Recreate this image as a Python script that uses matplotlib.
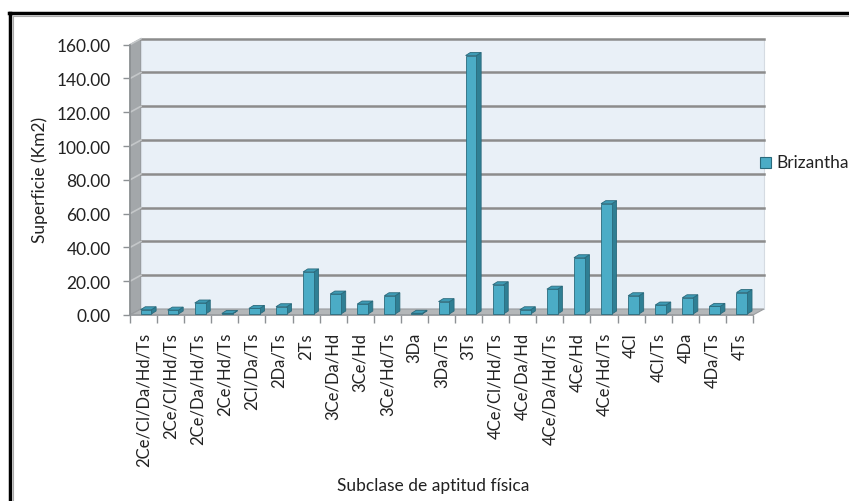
import matplotlib
matplotlib.use("Agg")
import matplotlib.pyplot as plt
from matplotlib.patches import Polygon, Rectangle
from matplotlib.lines import Line2D

plt.rcParams['font.family'] = ['Lato', 'DejaVu Sans']

categories = ["2Ce/Cl/Da/Hd/Ts", "2Ce/Cl/Hd/Ts", "2Ce/Da/Hd/Ts", "2Ce/Hd/Ts", "2Cl/Da/Ts",
              "2Da/Ts", "2Ts", "3Ce/Da/Hd", "3Ce/Hd", "3Ce/Hd/Ts", "3Da", "3Da/Ts", "3Ts",
              "4Ce/Cl/Hd/Ts", "4Ce/Da/Hd", "4Ce/Da/Hd/Ts", "4Ce/Hd", "4Ce/Hd/Ts", "4Cl",
              "4Cl/Ts", "4Da", "4Da/Ts", "4Ts"]
brizantha = [2.5, 2.3, 6.5, 0.3, 3.3, 4.3, 24.9, 11.8, 5.9, 10.8, 0.4, 7.3, 153.0,
             17.3, 2.5, 14.7, 33.3, 65.3, 10.8, 5.3, 9.6, 4.5, 12.7]
yticks = [0, 20, 40, 60, 80, 100, 120, 140, 160]
series_name = "Brizantha"

W, H = 849, 502
fig = plt.figure(figsize=(W / 100, H / 100), dpi=100)
fig.patch.set_facecolor('white')

x0, x1 = 130, 753
y0, y1 = 316, 45.7
ax = fig.add_axes([x0 / W, 1 - y0 / H, (x1 - x0) / W, (y0 - y1) / H])
n = len(categories)
ax.set_xlim(0, n)
ax.set_ylim(0, 160)
ax.patch.set_visible(False)
for s in ax.spines.values():
    s.set_visible(False)

pxx = (x1 - x0) / n
pxy = (y0 - y1) / 160.0
DX = 11 / pxx
DY = 6 / pxy

gray_grid = '#8c8c8c'
# side wall
ax.add_patch(Polygon([(0, 0), (DX, DY), (DX, 160 + DY), (0, 160)], closed=True,
                     facecolor='#a3a7aa', edgecolor='#8d9194', lw=0.8, clip_on=False, zorder=1))
# back wall
ax.add_patch(Polygon([(DX, DY), (n + DX, DY), (n + DX, 160 + DY), (DX, 160 + DY)], closed=True,
                     facecolor='#e9f0f7', edgecolor='#d5dbe2', lw=0.8, clip_on=False, zorder=1))
# floor
ax.add_patch(Polygon([(0, 0), (n, 0), (n + DX, DY), (DX, DY)], closed=True,
                     facecolor='#b4b7b9', edgecolor='#9a9da0', lw=0.8, clip_on=False, zorder=2))
# gridlines
for v in yticks[1:]:
    ax.add_line(Line2D([DX, n + DX], [v + DY, v + DY], color=gray_grid, lw=1.8, zorder=2, clip_on=False))
    ax.add_line(Line2D([0, DX], [v, v + DY], color='#c4c7c9', lw=1.2, zorder=2, clip_on=False))
# front edge lines
ax.add_line(Line2D([0, n], [0, 0], color='#9a9da0', lw=1.2, zorder=3, clip_on=False))
ax.add_line(Line2D([0, 0], [0, 160], color='#8d9194', lw=1.2, zorder=3, clip_on=False))

# bars
bw = 0.40
off = 0.39
bdx = 4.7 / pxx
bdy = 3.0 / pxy
base = 0.6
front_c = '#4bacc6'
side_c = '#2f7f94'
top_c = '#3e9bb5'
edge_c = '#2a6a7c'
for i, v in enumerate(brizantha):
    xl = i + off
    xr = xl + bw
    b = base
    t = base + v
    ax.add_patch(Polygon([(xr, b), (xr + bdx, b + bdy), (xr + bdx, t + bdy), (xr, t)], closed=True,
                         facecolor=side_c, edgecolor=edge_c, lw=0.6, zorder=4, clip_on=False))
    ax.add_patch(Polygon([(xl, t), (xr, t), (xr + bdx, t + bdy), (xl + bdx, t + bdy)], closed=True,
                         facecolor=top_c, edgecolor=edge_c, lw=0.6, zorder=4, clip_on=False))
    ax.add_patch(Rectangle((xl, b), bw, v, facecolor=front_c, edgecolor=edge_c, lw=0.6,
                           zorder=5, clip_on=False))

ax.set_yticks(yticks)
ax.set_yticklabels([f"{v:.2f}" for v in yticks], fontsize=12.5, color='#222222')
ax.tick_params(axis='y', length=5, width=1, color='#8d9194', pad=9)
ax.set_xticks([i for i in range(n + 1)], minor=False)
ax.set_xticklabels([])
ax.tick_params(axis='x', length=6, width=1, color='#8d9194', direction='out')
for i, c in enumerate(categories):
    ax.text(i + 0.5, -10, c, rotation=90, ha='center', va='top', fontsize=12, color='#222222',
            clip_on=False)

fig.text(40 / W, 1 - 180 / H, "Superficie (Km2)", rotation=90, ha='center', va='center',
         fontsize=12.5, color='#222222')
fig.text(433 / W, 1 - 486 / H, "Subclase de aptitud física", ha='center', va='center',
         fontsize=12.5, color='#222222')

# legend
fig.patches.append(Rectangle((760 / W, 1 - 168.7 / H), 11 / W, 11 / H, transform=fig.transFigure,
                             facecolor=front_c, edgecolor=edge_c, lw=0.8))
fig.text(776 / W, 1 - 163 / H, series_name, ha='left', va='center', fontsize=12.5, color='#222222')

# outer frame
fig.add_artist(Line2D([9 / W, 1], [1 - 14 / H, 1 - 14 / H], transform=fig.transFigure, color='black', lw=2.5))
fig.add_artist(Line2D([10 / W, 10 / W], [0, 1 - 14 / H], transform=fig.transFigure, color='black', lw=2.5))
fig.add_artist(Line2D([13 / W, 1], [1 - 17 / H, 1 - 17 / H], transform=fig.transFigure, color='#aaaaaa', lw=0.8))
fig.add_artist(Line2D([13.5 / W, 13.5 / W], [0, 1 - 17 / H], transform=fig.transFigure, color='#aaaaaa', lw=0.8))

fig.savefig("out.png", dpi=100)
